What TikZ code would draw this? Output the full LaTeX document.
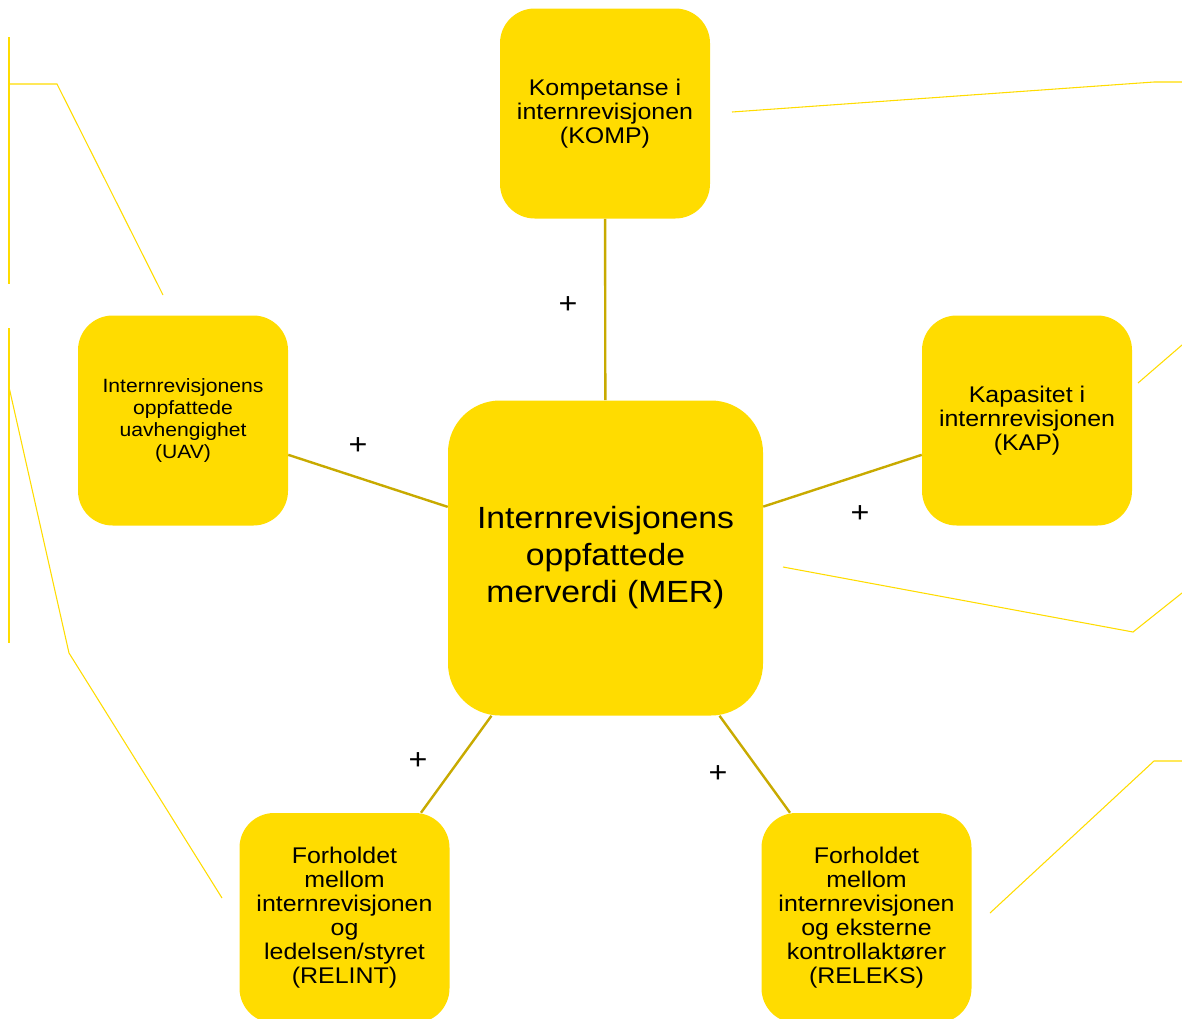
\documentclass[tikz,border=0pt]{standalone}
\usepackage{fontspec}
\setmainfont[FakeStretch=1.1]{Liberation Sans}

\definecolor{boxyellow}{HTML}{FFDC00}
\definecolor{linkgold}{HTML}{C8AA00}

\tikzset{
    factor/.style={fill=boxyellow, rounded corners=26pt, minimum width=157.5pt,
        minimum height=157.5pt, inner sep=0pt, align=center,
        font=\fontsize{17}{18}\selectfont},
    link/.style={draw=linkgold, line width=1.8pt},
    guide/.style={draw=boxyellow, line width=0.8pt},
    sign/.style={font=\fontsize{22}{22}\selectfont}
}

\begin{document}
\begin{tikzpicture}[x=0.75pt, y=-0.75pt]

    \useasboundingbox (0,0) rectangle (1182,1018);

    % Thin guide lines on the left
    \draw[guide] (9,37) -- (9,284);              % Upper vertical
    \draw[guide] (9,84) -- (57,84) -- (163,295); % Towards UAV
    \draw[guide] (9,328) -- (9,643);             % Lower vertical
    \draw[guide] (9,387) -- (69,653) -- (222,898); % Towards RELINT

    % Thin guide lines on the right
    \draw[guide] (732,112) -- (1154,82) -- (1182,82);  % From KOMP
    \draw[guide] (1138,383) -- (1182,345);             % From KAP
    \draw[guide] (783,567) -- (1133,632) -- (1182,593); % From MER
    \draw[guide] (990,913) -- (1154,761) -- (1182,761); % From RELEKS

    % Central box
    \node[factor, minimum width=236.25pt, minimum height=236.25pt,
        rounded corners=39pt, font=\fontsize{23}{27.75}\selectfont]
        (mer) at (605.5,558) {Internrevisjonens\\oppfattede\\merverdi (MER)};

    % Surrounding boxes
    \node[factor] (komp) at (605,113.5) {Kompetanse i\\internrevisjonen\\(KOMP)};
    \node[factor, font=\fontsize{14.4}{16.7}\selectfont]
        (uav) at (183,420.5) {Internrevisjonens\\oppfattede\\uavhengighet\\(UAV)};
    \node[factor] (kap) at (1027,420.5) {Kapasitet i\\internrevisjonen\\(KAP)};
    \node[factor] (relint) at (344.5,918) {Forholdet\\mellom\\internrevisjonen\\og\\ledelsen/styret\\(RELINT)};
    \node[factor] (releks) at (866.5,918) {Forholdet\\mellom\\internrevisjonen\\og eksterne\\kontrollaktører\\(RELEKS)};

    % Links into the central box
    \draw[link] (komp) -- (mer);
    \draw[link] (uav) -- (mer);
    \draw[link] (kap) -- (mer);
    \draw[link] (relint) -- (mer);
    \draw[link] (releks) -- (mer);

    % Signs on the links
    \node[sign] (skomp) at (568,305) {+};
    \node[sign] (suav) at (358,446) {+};
    \node[sign] (skap) at (860,514) {+};
    \node[sign] (srelint) at (418,761) {+};
    \node[sign] (sreleks) at (718,774) {+};

\end{tikzpicture}
\end{document}
